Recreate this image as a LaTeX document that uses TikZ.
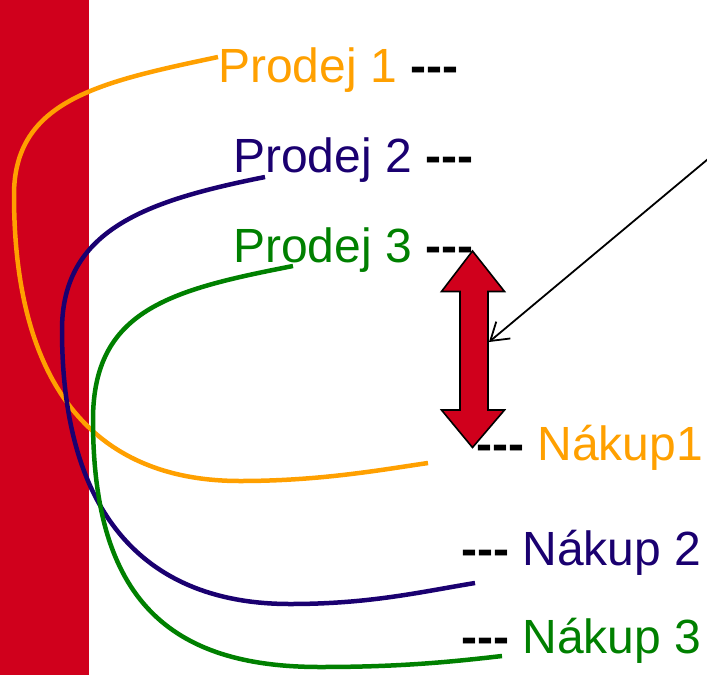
\documentclass[tikz,border=0pt]{standalone}
\usepackage{fontspec}
\setmainfont{Liberation Sans}
\usetikzlibrary{arrows.meta}
\definecolor{barred}{RGB}{208,0,28}
\definecolor{orng}{RGB}{255,160,0}
\definecolor{navy}{RGB}{26,0,112}
\definecolor{grn}{RGB}{0,128,0}
\tikzset{
  lbl/.style={anchor=base west, inner sep=0pt, font=\fontsize{48}{56}\selectfont},
  curve/.style={line width=4.5pt},
}
\newcommand{\dsh}{{\color{black}\bfseries -{}-{}-}}
\begin{document}
\begin{tikzpicture}[x=1pt,y=-1pt]
\useasboundingbox (0,0) rectangle (707,675);
\clip (0,0) rectangle (707,675);
% red bar
\fill[barred] (0,0) rectangle (89,675);
% labels
\node[lbl, text=orng] (p1) at (218,82) {Prodej 1 \dsh};
\node[lbl, text=navy] (p2) at (233,172) {Prodej 2 \dsh};
\node[lbl, text=grn]  (p3) at (233,262) {Prodej 3 \dsh};
\node[lbl, text=orng] (n1) at (476,460) {\dsh{} Nákup1};
\node[lbl, text=navy] (n2) at (461,565) {\dsh{} Nákup 2};
\node[lbl, text=grn]  (n3) at (461,653) {\dsh{} Nákup 3};
% curve ends
\coordinate (o1) at (218,57);  \coordinate (o2) at (428,463);
\coordinate (b1) at (265,177); \coordinate (b2) at (475,583);
\coordinate (g1) at (293,266); \coordinate (g2) at (502,656);
% curves
\draw[curve, orng] (o1) .. controls (100,82) and (14,100) .. (14,195)
   .. controls (14,380) and (90,481) .. (240,481)
   .. controls (320,481) and (380,470) .. (o2);
\draw[curve, navy] (b1) .. controls (145,201) and (62,230) .. (62,330)
   .. controls (62,520) and (150,604) .. (290,604)
   .. controls (370,604) and (420,592) .. (b2);
\draw[curve, grn] (g1) .. controls (170,290) and (93,310) .. (93,420)
   .. controls (93,600) and (170,667) .. (320,667)
   .. controls (400,667) and (450,662) .. (g2);
% double arrow
\draw[fill=barred, line width=1.6pt, line join=miter]
  (472.5,251) -- (504.5,291.5) -- (488,291.5) -- (488,410) -- (504.5,410)
  -- (472.5,447.5) -- (441.5,410) -- (460,410) -- (460,291.5)
  -- (441.5,291.5) -- cycle;
\coordinate (dbl) at (489,342);
\coordinate (src) at (720,149);
\draw[line width=1.8pt, -{Straight Barb[length=17pt,width=22pt]}] (src) -- (dbl);
\end{tikzpicture}
\end{document}
